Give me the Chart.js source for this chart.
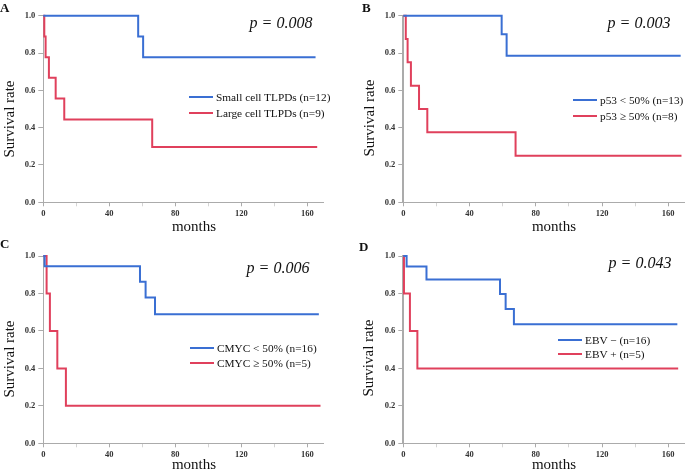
<!DOCTYPE html>
<html>
<head>
<meta charset="utf-8">
<script src="https://cdn.jsdelivr.net/npm/chart.js@4.4.1/dist/chart.umd.min.js"></script>
<style>
  body { margin: 0; background: #fff; }
  #wrap { position: relative; width: 685px; height: 470px; overflow: hidden;
          font-family: 'Liberation Serif', 'Times New Roman', serif; color: #111; }
  #wrap canvas { position: absolute; }
  .t { position: absolute; white-space: nowrap; line-height: 1; transform: translate(-50%, -50%); }
  .ylab { transform: translate(-50%, -50%) rotate(-90deg); font-size: 15px; }
  .xlab { font-size: 15px; }
  .pval { font-size: 16px; font-style: italic; }
  .letter { position: absolute; font-size: 13px; font-weight: bold; line-height: 1; }
  .leg { position: absolute; display: flex; align-items: center; height: 14px; font-size: 11.3px; white-space: nowrap; }
  .leg span.ln { display: inline-block; width: 24px; height: 2px; margin-right: 3px; }
</style>
</head>
<body>
<div id="wrap">
  <canvas id="cA" width="342" height="235" style="left:0;top:0"></canvas>
  <canvas id="cB" width="342" height="235" style="left:343px;top:0"></canvas>
  <canvas id="cC" width="342" height="235" style="left:0;top:235px"></canvas>
  <canvas id="cD" width="342" height="235" style="left:343px;top:235px"></canvas>
</div>
<script>
// ---- data (months, survival) ----
const monthsA_small = [0, 57.5, 60.5, 165];
const survA_small   = [1, 0.889, 0.778, 0.778];
const monthsA_large = [0, 0.6, 1.4, 3.4, 7.5, 12.7, 66, 166];
const survA_large   = [1, 0.889, 0.778, 0.667, 0.556, 0.444, 0.296, 0.296];

const monthsB_low  = [0, 59.4, 62.4, 167.5];
const survB_low    = [1, 0.9, 0.786, 0.786];
const monthsB_high = [0, 1.5, 2.6, 4.6, 9.5, 14.5, 67.8, 168];
const survB_high   = [1, 0.875, 0.75, 0.625, 0.5, 0.375, 0.25, 0.25];

const monthsC_low  = [0, 0.8, 58.6, 62, 67.7, 167];
const survC_low    = [1, 0.945, 0.863, 0.778, 0.689, 0.689];
const monthsC_high = [0, 2, 4, 8.5, 13.7, 168];
const survC_high   = [1, 0.8, 0.6, 0.4, 0.2, 0.2];

const monthsD_neg = [0, 2, 14, 58.4, 61.8, 66.8, 165.5];
const survD_neg   = [1, 0.944, 0.875, 0.797, 0.717, 0.636, 0.636];
const monthsD_pos = [0, 0.4, 4, 8.5, 166];
const survD_pos   = [1, 0.8, 0.6, 0.4, 0.4];

const legendA = ['Small cell TLPDs (n=12)', 'Large cell TLPDs (n=9)'];
const legendB = ['p53 < 50% (n=13)', 'p53 \u2265 50% (n=8)'];
const legendC = ['CMYC < 50% (n=16)', 'CMYC \u2265 50% (n=5)'];
const legendD = ['EBV \u2212 (n=16)', 'EBV + (n=5)'];
const pValues = ['p = 0.008', 'p = 0.003', 'p = 0.006', 'p = 0.043'];
const yTicks = [0, 0.2, 0.4, 0.6, 0.8, 1.0];
const xMax = 170;

const BLUE = '#3a6fd3';
const RED = '#e0405c';
const AXIS = '#ababab';
const SERIF = "'Liberation Serif', 'Times New Roman', serif";

function pts(xs, ys) {
  return xs.map((x, i) => ({ x: x, y: ys[i] }));
}

// draw one Kaplan-Meier panel; box = chart area inside the canvas
function makeChart(id, box, blue, red, axisW) {
  const cv = document.getElementById(id);
  const W = cv.width, H = cv.height;
  const ds = (d, col) => ({
    data: d, borderColor: col, borderWidth: 2, pointRadius: 0,
    stepped: 'before', fill: false, clip: false
  });
  return new Chart(cv.getContext('2d'), {
    type: 'line',
    data: { datasets: [ds(blue, BLUE), ds(red, RED)] },
    options: {
      responsive: false, animation: false, devicePixelRatio: 1,
      layout: { padding: { left: 0, top: box.top, right: W - box.right, bottom: 0 } },
      plugins: { legend: { display: false }, tooltip: { enabled: false } },
      scales: {
        x: {
          type: 'linear', min: 0, max: xMax,
          border: { color: AXIS, width: 1 },
          grid: {
            drawOnChartArea: false, tickLength: 4, color: AXIS,
            // minor ticks (20, 60, ...) look shorter/fainter
            tickColor: c => (c.tick && c.tick.value % 40 !== 0 ? '#d4d4d4' : AXIS)
          },
          ticks: {
            stepSize: 20, includeBounds: false, autoSkip: false, maxRotation: 0, padding: 2,
            font: { family: SERIF, size: 8.5, weight: 'bold' }, color: '#333',
            callback: v => (v % 40 === 0 ? v : '')
          },
          afterFit: s => { s.height = H - box.bottom; }
        },
        y: {
          min: 0, max: 1,
          border: { color: AXIS, width: axisW },
          grid: { drawOnChartArea: false, tickLength: 5, color: AXIS },
          afterBuildTicks: s => { s.ticks = yTicks.map(v => ({ value: v })); },
          ticks: {
            padding: 3, font: { family: SERIF, size: 8.5, weight: 'bold' }, color: '#333',
            callback: v => Number(v).toFixed(1)
          },
          afterFit: s => { s.width = box.left; }
        }
      }
    }
  });
}

makeChart('cA', { left: 43.3, top: 15.7, right: 43.3 + xMax * 1.65, bottom: 202.3 },
  pts(monthsA_small, survA_small), pts(monthsA_large, survA_large), 1);
makeChart('cB', { left: 60.3, top: 15.7, right: 341.8, bottom: 202.3 },
  pts(monthsB_low, survB_low), pts(monthsB_high, survB_high), 2);
makeChart('cC', { left: 43.3, top: 21, right: 43.3 + xMax * 1.65, bottom: 208.3 },
  pts(monthsC_low, survC_low), pts(monthsC_high, survC_high), 1);
makeChart('cD', { left: 60.3, top: 21, right: 341.8, bottom: 208.3 },
  pts(monthsD_neg, survD_neg), pts(monthsD_pos, survD_pos), 2);

// ---- text overlays ----
const wrap = document.getElementById('wrap');
function text(cls, str, x, y) {
  const d = document.createElement('div');
  d.className = cls;
  d.textContent = str;
  d.style.left = x + 'px';
  d.style.top = y + 'px';
  wrap.appendChild(d);
  return d;
}
function legend(labels, x, y1, y2) {
  [[labels[0], BLUE, y1], [labels[1], RED, y2]].forEach(([lab, col, y]) => {
    const row = document.createElement('div');
    row.className = 'leg';
    row.style.left = x + 'px';
    row.style.top = (y - 7) + 'px';
    row.innerHTML = '<span class="ln" style="background:' + col + '"></span><span></span>';
    row.lastChild.textContent = lab;
    wrap.appendChild(row);
  });
}

const letters = [['A', 0, 1], ['B', 362, 1], ['C', 0, 237], ['D', 359, 240]];
letters.forEach(([l, x, y]) => { text('letter', l, x, y); });

text('t ylab', 'Survival rate', 9, 118.5);
text('t ylab', 'Survival rate', 369, 118);
text('t ylab', 'Survival rate', 9, 358.5);
text('t ylab', 'Survival rate', 368, 358);

text('t xlab', 'months', 194, 226);
text('t xlab', 'months', 554, 226);
text('t xlab', 'months', 194, 464);
text('t xlab', 'months', 554, 464);

text('t pval', pValues[0], 281, 23);
text('t pval', pValues[1], 639, 23);
text('t pval', pValues[2], 278, 268);
text('t pval', pValues[3], 640, 263);

legend(legendA, 189, 97.3, 112.7);
legend(legendB, 573, 100, 116);
legend(legendC, 190, 348, 363);
legend(legendD, 558, 340, 354);
</script>
</body>
</html>
